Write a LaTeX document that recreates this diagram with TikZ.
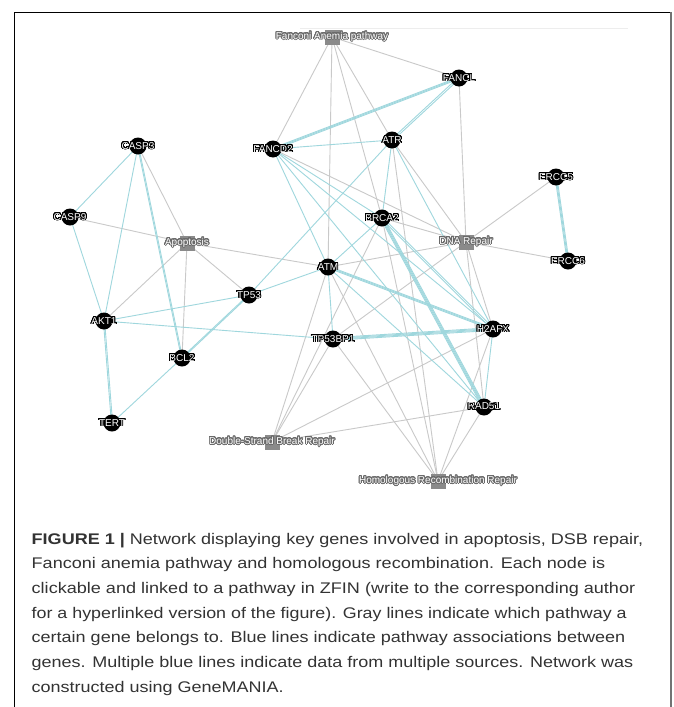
\documentclass[tikz,border=0pt]{standalone}
\usepackage{fontspec}
\setmainfont{Liberation Sans}
\usepackage[copies]{contour}
\usetikzlibrary{calc,backgrounds}
\definecolor{grayedge}{HTML}{C9C9C9}
\definecolor{blueedge}{HTML}{9FD7DD}
\definecolor{pathsq}{HTML}{8A8A8A}
\definecolor{pathol}{HTML}{6A6A6A}
\definecolor{captxt}{HTML}{333333}
\contourlength{0.85pt}
\contournumber{32}
\newcommand\gl[1]{\textcolor{white}{\contour{black}{#1}}}
\newcommand\pl[1]{\textcolor{white}{\contour{pathol}{#1}}}
\newsavebox\capbox
\newcommand\capline[2]{\sbox\capbox{#2}\pgfmathsetmacro\capf{#1/\the\wd\capbox}\global\let\lastcapf\capf\scalebox{\capf}[1]{\usebox\capbox}}
\newcommand\capsame[1]{\scalebox{\lastcapf}[1]{#1}}
\newcommand\bl[3]{\foreach \o in {#3}{\draw[bedge] ($(#1.center)!\o pt!90:(#2.center)$) -- ($(#2.center)!\o pt!-90:(#1.center)$);}}
\begin{document}
\begin{tikzpicture}[x=1pt,y=-1pt,
  gene/.style={circle,fill=black,minimum size=17pt,inner sep=0pt},
  pathway/.style={rectangle,fill=pathsq,minimum size=15pt,inner sep=0pt},
  gedge/.style={draw=grayedge,line width=0.9pt},
  bedge/.style={draw=blueedge,line width=0.9pt},
  every label/.style={font=\fontsize{10}{12}\selectfont,inner sep=0pt},
  capt/.style={anchor=base west,inner sep=0pt,text=captxt,font=\fontsize{15.4}{18}\selectfont}]
\useasboundingbox (0,0) rectangle (673,707);
% frame
\draw[black,line width=0.9pt] (14,707) -- (14,12) -- (672,12);
\draw[black!55,line width=1.8pt] (671,12) -- (671,707);
\draw[black!7,line width=0.8pt] (300,28) -- (628,28);
% pathways
\node[pathway,label={center:\pl{Fanconi Anemia pathway}}] (FAP) at (332,37) {};
\node[pathway,label={center:\pl{DNA Repair}}] (DNAR) at (466,242) {};
\node[pathway,label={center:\pl{Apoptosis}}] (APOP) at (187,243) {};
\node[pathway,label={center:\pl{Double-Strand Break Repair}}] (DSB) at (272,442) {};
\node[pathway,label={center:\pl{Homologous Recombination Repair}}] (HRR) at (438,481) {};
% genes
\node[gene,label={center:\gl{FANCL}}] (FANCL) at (459,78) {};
\node[gene,label={center:\gl{ATR}}] (ATR) at (392,140) {};
\node[gene,label={center:\gl{FANCD2}}] (FANCD2) at (273,149) {};
\node[gene,label={center:\gl{CASP3}}] (CASP3) at (138,146) {};
\node[gene,label={center:\gl{CASP9}}] (CASP9) at (70,217) {};
\node[gene,label={center:\gl{ERCC5}}] (ERCC5) at (556,177) {};
\node[gene,label={center:\gl{ERCC6}}] (ERCC6) at (568,261) {};
\node[gene,label={center:\gl{BRCA2}}] (BRCA2) at (382,218) {};
\node[gene,label={center:\gl{ATM}}] (ATM) at (328,267) {};
\node[gene,label={center:\gl{TP53}}] (TP53) at (249,295) {};
\node[gene,label={center:\gl{AKT1}}] (AKT1) at (104,321) {};
\node[gene,label={center:\gl{TP53BP1}}] (TP53BP1) at (333,339) {};
\node[gene,label={center:\gl{H2AFX}}] (H2AFX) at (493,329) {};
\node[gene,label={center:\gl{BCL2}}] (BCL2) at (182,358) {};
\node[gene,label={center:\gl{RAD51}}] (RAD51) at (484,407) {};
\node[gene,label={center:\gl{TERT}}] (TERT) at (112,423) {};
\begin{pgfonlayer}{background}
\fill[white] (0,0) rectangle (673,707);
\foreach \a/\b in {FAP/FANCD2,FAP/FANCL,FAP/ATR,FAP/BRCA2,FAP/ATM,
  DNAR/FANCL,DNAR/ATR,DNAR/FANCD2,DNAR/BRCA2,DNAR/ATM,DNAR/ERCC5,DNAR/ERCC6,DNAR/H2AFX,DNAR/RAD51,DNAR/TP53BP1,
  APOP/CASP3,APOP/CASP9,APOP/AKT1,APOP/BCL2,APOP/TP53,APOP/ATM,
  DSB/ATM,DSB/TP53BP1,DSB/BRCA2,DSB/H2AFX,DSB/RAD51,
  HRR/ATM,HRR/TP53BP1,HRR/BRCA2,HRR/ATR,HRR/H2AFX,HRR/RAD51}
  \draw[gedge] (\a.center) -- (\b.center);
\bl{CASP3}{CASP9}{0}
\bl{CASP3}{AKT1}{0}
\bl{CASP3}{BCL2}{-0.5,0.5}
\bl{CASP9}{AKT1}{0}
\bl{AKT1}{TERT}{-0.6,0.6}
\bl{AKT1}{TP53}{0}
\bl{AKT1}{TP53BP1}{0}
\bl{BCL2}{TP53}{-0.5,0.5}
\bl{BCL2}{TERT}{0}
\bl{TP53}{ATM}{0}
\bl{TP53}{ATR}{0}
\bl{FANCD2}{FANCL}{-0.9,0,0.9}
\bl{FANCD2}{ATR}{0}
\bl{FANCD2}{ATM}{0}
\bl{FANCD2}{BRCA2}{0}
\bl{FANCD2}{H2AFX}{0}
\bl{FANCD2}{RAD51}{0}
\bl{FANCL}{ATR}{-0.9,0.9}
\bl{ATR}{BRCA2}{0}
\bl{ATR}{H2AFX}{0}
\bl{BRCA2}{ATM}{0}
\bl{BRCA2}{RAD51}{-1.35,-0.45,0.45,1.35}
\bl{BRCA2}{H2AFX}{-0.9,0.9}
\bl{ATM}{TP53BP1}{0}
\bl{ATM}{H2AFX}{-0.9,0,0.9}
\bl{ATM}{RAD51}{0}
\bl{TP53BP1}{H2AFX}{-1.35,-0.45,0.45,1.35}
\bl{H2AFX}{RAD51}{0}
\bl{ERCC5}{ERCC6}{-0.9,0,0.9}
\end{pgfonlayer}
% caption
\node[capt] (cap1) at (31.5,544) {\capline{611.5}{\textbf{FIGURE 1 |} Network displaying key genes involved in apoptosis, DSB repair,}};
\node[capt] (cap2) at (31.5,568.7) {\capline{573.5}{Fanconi anemia pathway and homologous recombination. Each node is}};
\node[capt] (cap3) at (31.5,593.4) {\capline{603.5}{clickable and linked to a pathway in ZFIN (write to the corresponding author}};
\node[capt] (cap4) at (31.5,618) {\capline{595}{for a hyperlinked version of the figure). Gray lines indicate which pathway a}};
\node[capt] (cap5) at (31.5,642.7) {\capline{593.5}{certain gene belongs to. Blue lines indicate pathway associations between}};
\node[capt] (cap6) at (31.5,667.4) {\capline{601.5}{genes. Multiple blue lines indicate data from multiple sources. Network was}};
\node[capt] (cap7) at (31.5,692) {\capsame{constructed using GeneMANIA.}};
\end{tikzpicture}
\end{document}
